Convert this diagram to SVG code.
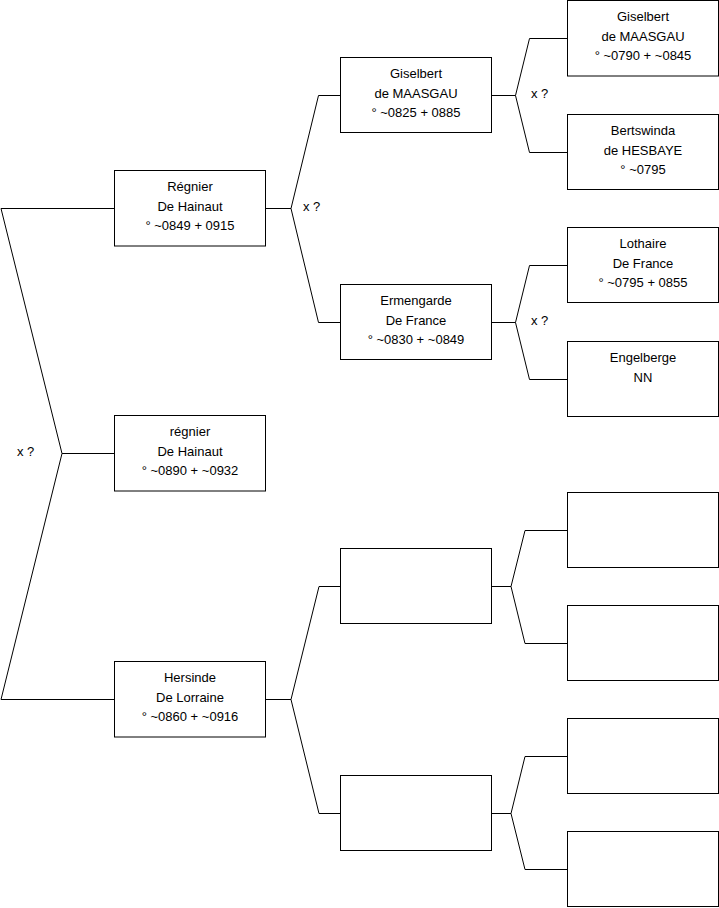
<svg xmlns="http://www.w3.org/2000/svg" width="719" height="908" viewBox="0 0 719 908">
<style>
.box{fill:#fff;stroke:#000;stroke-width:1}
.con{fill:none;stroke:#000;stroke-width:1}
text{font-family:"Liberation Sans",Arial,sans-serif;font-size:13px;fill:#000}
.c{text-anchor:middle}
</style>
<rect x="0" y="0" width="719" height="908" fill="#fff"/>
<g id="connectors">
<path class="con" d="M1,208.5 H114.5 M1,208.5 L62,453.5 L1,699.5 H114.5 M62,453.5 H114.5"/>
<path class="con" d="M265.5,208.5 H291 L318.5,95.5 H340.5 M291,208.5 L318.5,322.5 H340.5"/>
<path class="con" d="M265.5,699.5 H291 L319,586.5 H340.5 M291,699.5 L319,813.5 H340.5"/>
<path class="con" d="M491.5,95.5 H515.5 L529.5,38.5 H567.5 M515.5,95.5 L529.5,152.5 H567.5"/>
<path class="con" d="M491.5,322.5 H515.5 L529.5,265.5 H567.5 M515.5,322.5 L529.5,379.5 H567.5"/>
<path class="con" d="M491.5,586.5 H511 L525,530.5 H567.5 M511,586.5 L525,643.5 H567.5"/>
<path class="con" d="M491.5,813.5 H511 L525,756.5 H567.5 M511,813.5 L525,869.5 H567.5"/>
<text x="17" y="456">x ?</text>
<text x="303" y="211">x ?</text>
<text x="531" y="98">x ?</text>
<text x="531" y="325">x ?</text>
</g>
<g id="regnier1">
<rect class="box" x="114.5" y="170.5" width="151" height="75.5"/>
<text class="c" x="190" y="191">Régnier</text>
<text class="c" x="190" y="211">De Hainaut</text>
<text class="c" x="190" y="230">° ~0849 + 0915</text>
</g>
<g id="regnier2">
<rect class="box" x="114.5" y="415.5" width="151" height="75.5"/>
<text class="c" x="190" y="436">régnier</text>
<text class="c" x="190" y="456">De Hainaut</text>
<text class="c" x="190" y="475">° ~0890 + ~0932</text>
</g>
<g id="hersinde">
<rect class="box" x="114.5" y="661.5" width="151" height="75.5"/>
<text class="c" x="190" y="682">Hersinde</text>
<text class="c" x="190" y="702">De Lorraine</text>
<text class="c" x="190" y="721">° ~0860 + ~0916</text>
</g>
<g id="giselbert1">
<rect class="box" x="340.5" y="57.5" width="151" height="75"/>
<text class="c" x="416" y="78">Giselbert</text>
<text class="c" x="416" y="98">de MAASGAU</text>
<text class="c" x="416" y="117">° ~0825 + 0885</text>
</g>
<g id="ermengarde">
<rect class="box" x="340.5" y="284.5" width="151" height="75"/>
<text class="c" x="416" y="305">Ermengarde</text>
<text class="c" x="416" y="325">De France</text>
<text class="c" x="416" y="344">° ~0830 + ~0849</text>
</g>
<g id="empty2a"><rect class="box" x="340.5" y="548.5" width="151" height="75"/></g>
<g id="empty2b"><rect class="box" x="340.5" y="775.5" width="151" height="75"/></g>
<g id="giselbert2">
<rect class="box" x="567.5" y="0.5" width="151" height="75.5"/>
<text class="c" x="643" y="21">Giselbert</text>
<text class="c" x="643" y="41">de MAASGAU</text>
<text class="c" x="643" y="60">° ~0790 + ~0845</text>
</g>
<g id="bertswinda">
<rect class="box" x="567.5" y="114.5" width="151" height="75"/>
<text class="c" x="643" y="135">Bertswinda</text>
<text class="c" x="643" y="155">de HESBAYE</text>
<text class="c" x="643" y="174">° ~0795</text>
</g>
<g id="lothaire">
<rect class="box" x="567.5" y="227.5" width="151" height="75"/>
<text class="c" x="643" y="248">Lothaire</text>
<text class="c" x="643" y="268">De France</text>
<text class="c" x="643" y="287">° ~0795 + 0855</text>
</g>
<g id="engelberge">
<rect class="box" x="567.5" y="341.5" width="151" height="75"/>
<text class="c" x="643" y="362">Engelberge</text>
<text class="c" x="643" y="382">NN</text>
</g>
<g id="empty3a"><rect class="box" x="567.5" y="492.5" width="151" height="75"/></g>
<g id="empty3b"><rect class="box" x="567.5" y="605.5" width="151" height="75"/></g>
<g id="empty3c"><rect class="box" x="567.5" y="718.5" width="151" height="75"/></g>
<g id="empty3d"><rect class="box" x="567.5" y="831.5" width="151" height="75"/></g>
</svg>
